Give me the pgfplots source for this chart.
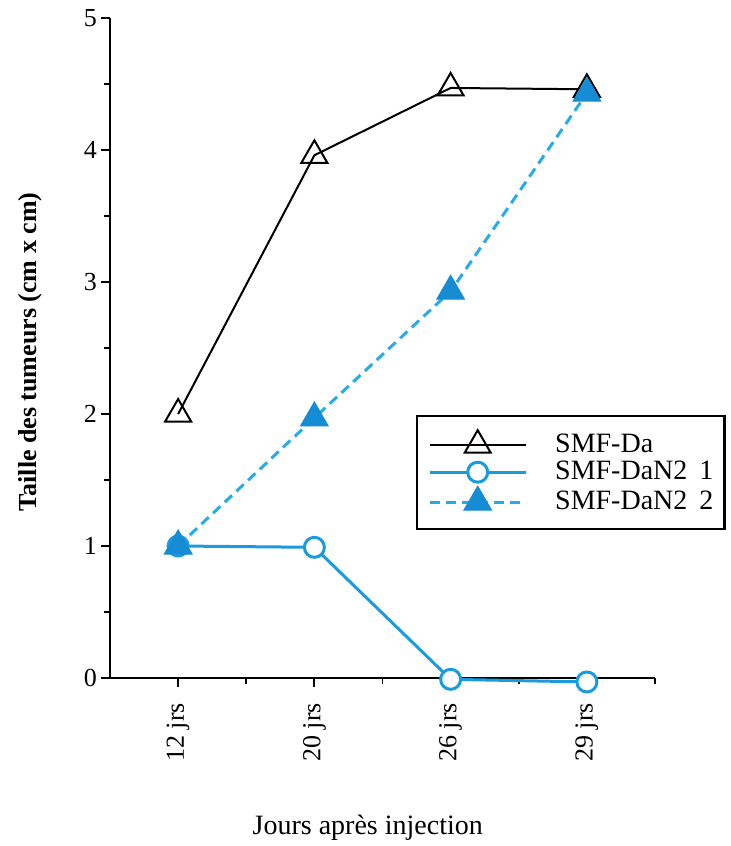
\documentclass[border=0pt]{standalone}
\usepackage{fontspec}
\setmainfont{Liberation Serif}
\usepackage{pgfplots}
\pgfplotsset{compat=1.18}
\definecolor{cblue}{RGB}{25,155,222}
\definecolor{cdash}{RGB}{40,172,232}
\definecolor{ctri}{RGB}{22,140,212}
\begin{document}
\begin{tikzpicture}
\path[use as bounding box] (-55pt,-84pt) rectangle (310.5pt,339pt);
\begin{axis}[
  at={(0,0)}, anchor=south west,
  scale only axis, width=272.5pt, height=330pt,
  xmin=-0.5, xmax=3.5, ymin=0, ymax=5,
  axis x line=bottom, axis y line=left,
  axis line style={-, line width=1pt, black},
  clip=false,
  xtick={0,1,2,3}, xticklabels={12 jrs,20 jrs,26 jrs,29 jrs},
  minor xtick={0.5,1.5,2.5,3.5},
  ytick={0,1,2,3,4,5},
  minor ytick={0.5,1.5,2.5,3.5,4.5},
  tick align=outside,
  major tick length=4.5pt, minor tick length=3pt,
  every tick/.style={black, line width=0.9pt},
  /pgf/number format/assume math mode=true,
  x tick label style={yshift=-4.5pt, rotate=90, anchor=east, font=\fontsize{13}{15}\selectfont},
  y tick label style={xshift=1.5pt, font=\fontsize{13}{15}\selectfont},
  xlabel={Jours après injection},
  xlabel style={at={(axis description cs:0.473,-0.227)}, anchor=center, font=\fontsize{14}{16}\selectfont},
  ylabel={Taille des tumeurs (cm x cm)},
  ylabel style={at={(axis description cs:-0.1468,0.494)}, anchor=center, font=\bfseries\fontsize{13}{15}\selectfont},
  legend cell align=left,
  legend image code/.code={\draw[mark repeat=2,mark phase=2,#1] plot coordinates {(0pt,0pt)(24pt,0pt)(48pt,0pt)};},
  legend style={at={(0.5615,0.3985)}, anchor=north west, draw=black, line width=1.2pt,
    inner xsep=5.5pt, inner ysep=7pt, column sep=14pt, row sep=0.5pt,
    font=\fontsize{14}{16}\selectfont,
    nodes={inner sep=0pt, text height=10pt, text depth=3pt}},
]
\addplot[black, line width=1pt, mark=triangle, mark size=7.5pt, mark options={fill=white, solid, line width=1pt}]
  coordinates {(0,2.0) (1,3.96) (2,4.47) (3,4.46)};
\addlegendentry{SMF-Da}
\addplot[cblue, line width=1.5pt, mark=*, mark size=5pt, mark options={fill=white, draw=cblue, solid, line width=1.5pt}]
  coordinates {(0,1.0) (1,0.99) (2,-0.01) (3,-0.03)};
\addlegendentry{SMF-DaN2\hspace{6pt}1}
\addplot[cdash, line width=1.5pt, dash pattern=on 5pt off 3pt, mark=triangle*, mark size=8pt, mark options={solid, fill=ctri, draw=ctri, line width=0.5pt}]
  coordinates {(0,1.0) (1,1.97) (2,2.93) (3,4.43)};
\addlegendentry{SMF-DaN2\hspace{6pt}2}
\end{axis}
\end{tikzpicture}
\end{document}
